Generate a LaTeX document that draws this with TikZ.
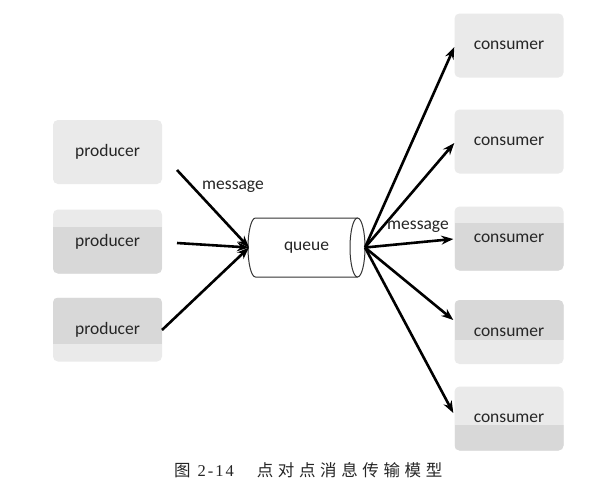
\documentclass[tikz,border=0pt]{standalone}
\usepackage{fontspec}
\setmainfont{Carlito}
\newfontfamily\cjk{Noto Sans CJK SC}
\newfontfamily\capserif{Liberation Serif}
\usetikzlibrary{arrows.meta,calc}
\definecolor{boxlight}{HTML}{EAEAEA}
\definecolor{boxdark}{HTML}{D8D8D8}
\tikzset{
  box/.style={rounded corners=5pt, fill=boxlight, minimum width=109pt, minimum height=64pt,
    inner sep=0pt, font=\fontsize{17.5}{19}\selectfont, text=black!85},
  darkbottom/.style={path picture={\fill[boxdark, sharp corners]
    ($(path picture bounding box.north west)!#1!(path picture bounding box.south west)$)
    rectangle (path picture bounding box.south east);}},
  darktop/.style={path picture={\fill[boxdark, sharp corners]
    (path picture bounding box.north west) rectangle
    ($(path picture bounding box.north east)!#1!(path picture bounding box.south east)$);}},
  arr/.style={-{Stealth[length=12pt,width=9pt]}, line width=2.6pt, black},
  lbl/.style={font=\fontsize{17.5}{19}\selectfont, text=black!85, inner sep=0pt},
  queuebox/.style={minimum width=117pt, minimum height=59pt, inner sep=0pt, font=\fontsize{17.5}{19}\selectfont, text=black!85}
}
\begin{document}
\begin{tikzpicture}[x=1pt,y=-1pt]
\useasboundingbox[fill=white] (0,0) rectangle (592,499);
% producers
\node[box] (p1) at (107.5,152) {producer};
\node[box, darkbottom=0.28] (p2) at (107.5,241.5) {producer};
\node[box, darktop=0.72] (p3) at (107.5,329.5) {producer};
% consumers
\node[box] (c1) at (509,45.5) {consumer};
\node[box] (c2) at (509,141.5) {consumer};
\node[box, darkbottom=0.25] (c3) at (509,238.5) {consumer};
\node[box, darktop=0.62] (c4) at (509,332) {consumer};
\node[box, darkbottom=0.6] (c5) at (509,418.5) {consumer};
% queue
\node[queuebox] (q) at (306.5,247.5) {queue};
\draw[line width=1pt, black!80] (357.5,218) -- (255.5,218)
  arc[start angle=270, end angle=90, x radius=7.5, y radius=29.5] -- (357.5,277);
\draw[line width=1pt, black!80] (357.5,247.5) ellipse[x radius=7.5, y radius=29.5];
\coordinate (qin) at (249,247.5);
\coordinate (qout) at (365,247.5);
% producer arrows
\coordinate (s1) at (177,170);
\coordinate (s2) at (177,243);
\coordinate (s3) at (162,330);
\draw[arr] (s1) -- (qin);
\draw[arr] (s2) -- (qin);
\draw[arr] (s3) -- (qin);
% consumer arrows
\coordinate (t1) at ($(c1.west)+(0,1.5)$);
\coordinate (t2) at ($(c2.west)+(0,1.5)$);
\coordinate (t3) at ($(c3.west)+(-1,0.5)$);
\coordinate (t4) at ($(c4.west)+(-1,-12)$);
\coordinate (t5) at ($(c5.west)+(-1,-5.5)$);
\foreach \t in {t1,t2,t3,t4,t5} \draw[arr] (qout) -- (\t);
% labels
\node[lbl] (m1) at (233,187) {message};
\node[lbl] (m2) at (418,227) {message};
% caption
\node[anchor=west, inner sep=0pt, text=black!85] (cap) at (174,470)
  {\fontsize{16.5}{18}\selectfont{\cjk 图}\hspace{7pt}{\capserif\addfontfeature{LetterSpace=12}2-14}\hspace{23pt}{\cjk\addfontfeature{LetterSpace=28}点对点消息传输模型}};
\end{tikzpicture}
\end{document}
